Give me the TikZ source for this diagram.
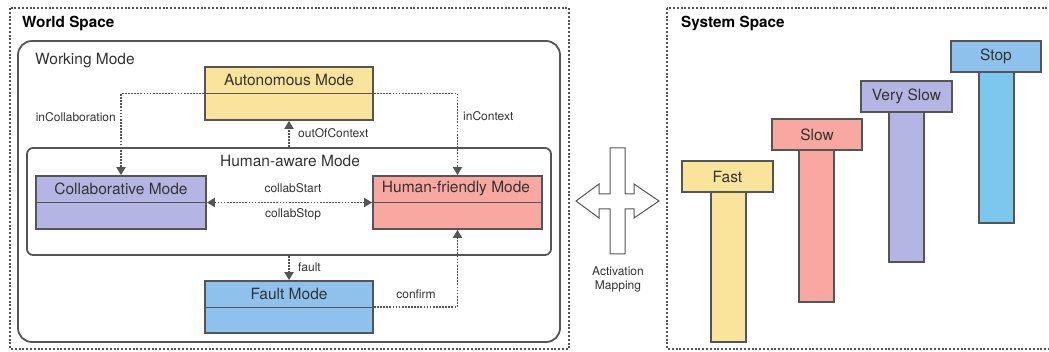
\documentclass[tikz,border=0pt]{standalone}
\usepackage{fontspec}
\setmainfont{TeX Gyre Heros}
\usetikzlibrary{arrows.meta}
\definecolor{strokec}{HTML}{555555}
\definecolor{textc}{HTML}{333333}
\definecolor{yellowc}{HTML}{FAE39B}
\definecolor{pinkc}{HTML}{F8A8A0}
\definecolor{lavc}{HTML}{B4B5E3}
\definecolor{bluec}{HTML}{8EC2EC}
\definecolor{cyanc}{HTML}{7CC7EE}
\begin{document}
\begin{tikzpicture}[x=1pt,y=-1pt,
  font=\fontsize{15.5pt}{17pt}\selectfont,
  every node/.style={text=textc},
  frame/.style={draw=strokec, line width=2pt, dash pattern=on 2pt off 1.8pt},
  modebox/.style={draw=strokec, line width=1.8pt, minimum width=168pt, minimum height=53pt, inner sep=0pt},
  divline/.style={draw=strokec, line width=0.9pt},
  region/.style={draw=strokec, line width=1.8pt, inner sep=0pt},
  conn/.style={draw=strokec, line width=1.9pt, dash pattern=on 1.7pt off 1.4pt, -{Triangle[length=8pt,width=9pt]}},
  biconn/.style={draw=strokec, line width=1.9pt, dash pattern=on 1.7pt off 1.4pt, {Triangle[length=8pt,width=9pt]}-{Triangle[length=8pt,width=9pt]}},
  lbl/.style={font=\fontsize{12pt}{14pt}\selectfont, inner sep=0pt},
  title/.style={font=\bfseries\fontsize{15.3pt}{17pt}\selectfont, text=black, inner sep=0pt, anchor=west},
  thead/.style={draw=strokec, line width=1.8pt, minimum width=90pt, minimum height=31pt, inner sep=0pt},
  tstem/.style={draw=strokec, line width=1.8pt, minimum width=35pt, inner sep=0pt}
]
\useasboundingbox (0,0) rectangle (1049,352);

% frames
\draw[frame] (10,8) rectangle (569,349);
\draw[frame] (667,8) rectangle (1052,349);
\node[title] (ws) at (22,24) {World Space};
\node[title] (ss) at (681,24) {System Space};

% Working mode and human-aware mode regions
\node[region, rounded corners=14pt, minimum width=542pt, minimum height=301pt] (wm) at (289,191.5) {};
\node[anchor=west, inner sep=0pt] (wmt) at (35,61) {Working Mode};
\node[region, rounded corners=6pt, minimum width=524pt, minimum height=107pt] (ha) at (289,201.5) {};
\node[inner sep=0pt] (hat) at (290,161) {Human-aware Mode};

% mode boxes
\node[modebox, fill=yellowc] (auto) at (289,93.5) {};
\draw[divline] (auto.west) -- (auto.east);
\node[inner sep=0pt] (autot) at (289,80) {Autonomous Mode};

\node[modebox, fill=lavc, minimum width=170pt] (collab) at (121,202.5) {};
\draw[divline] (collab.west) -- (collab.east);
\node[inner sep=0pt] (collabt) at (121,189) {Collaborative Mode};

\node[modebox, fill=pinkc, minimum width=169pt] (hf) at (457.5,202.5) {};
\draw[divline] (hf.west) -- (hf.east);
\node[inner sep=0pt] (hft) at (456,189) {Human-friendly Mode};

\node[modebox, fill=bluec, minimum height=52pt] (fault) at (289,307) {};
\draw[divline] (fault.west) -- (fault.east);
\node[inner sep=0pt] (faultt) at (289,293.5) {Fault Mode};

% connectors
\draw[conn] (auto.west) -| (collab.north);
\node[lbl, anchor=east] (lcoll) at (116,117) {inCollaboration};
\draw[conn] (auto.east) -| (hf.north);
\node[lbl, anchor=west] (lctx) at (463,116) {inContext};
\draw[conn] (auto.south |- ha.north) -- (auto.south);
\node[lbl, anchor=west] (lout) at (298,133) {outOfContext};
\draw[biconn] (collab.east) -- (hf.west);
\node[lbl] (lcs) at (293,188) {collabStart};
\node[lbl] (lcp) at (293,214) {collabStop};
\draw[conn] (fault.north |- ha.south) -- (fault.north);
\node[lbl, anchor=west] (lfault) at (298,267) {fault};
\draw[conn] (fault.east) -| (hf.south);
\node[lbl] (lconf) at (416,294) {confirm};

% activation mapping arrow
\draw[strokec, line width=1pt, fill=white, line join=miter]
  (610,148) -- (625,148) -- (625,194) -- (634,194) -- (634,184) -- (659,201)
  -- (634,218) -- (634,209) -- (625,209) -- (625,254) -- (610,254) -- (610,209)
  -- (599,209) -- (599,218) -- (576,201) -- (599,184) -- (599,194) -- (610,194) -- cycle;
\node[lbl, align=center] (am) at (618,279.5) {Activation\\Mapping};

% system space T shapes
\node[tstem, fill=yellowc, minimum height=150pt] (fasts) at (728.5,267) {};
\node[thead, fill=yellowc, minimum width=91pt] (fasth) at (727.5,176.5) {Fast};
\node[tstem, fill=pinkc, minimum height=152pt] (slows) at (816.5,226) {};
\node[thead, fill=pinkc] (slowh) at (817,134.5) {Slow};
\node[tstem, fill=lavc, minimum height=150pt] (vslows) at (906.5,187) {};
\node[thead, fill=lavc, minimum width=91pt] (vslowh) at (906.5,96.5) {Very Slow};
\node[tstem, fill=cyanc, minimum height=151pt] (stops) at (996.5,147.5) {};
\node[thead, fill=bluec] (stoph) at (996,56.5) {Stop};
\end{tikzpicture}
\end{document}
